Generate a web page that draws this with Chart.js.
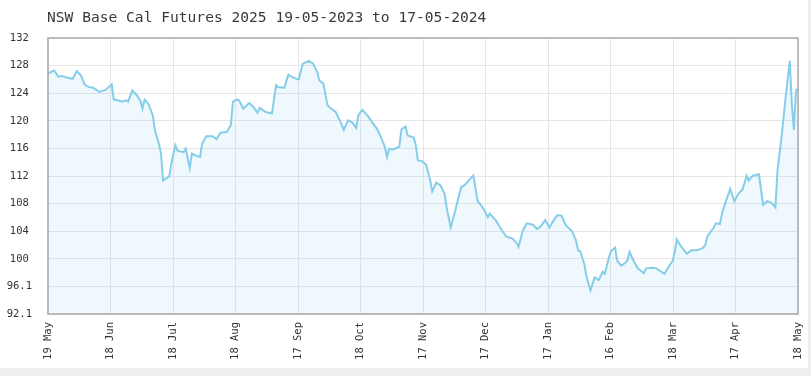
<!DOCTYPE html>
<html>
<head>
<meta charset="utf-8">
<script src="https://cdn.jsdelivr.net/npm/chart.js@4"></script>
<style>
  html, body { margin: 0; padding: 0; background: #eeeeee; }
  #wrap { width: 808px; height: 368px; background: #fff; }
</style>
</head>
<body>
<div id="wrap"><canvas id="chart" width="808" height="368"></canvas></div>
<script>
const titleText = "NSW Base Cal Futures 2025 19-05-2023 to 17-05-2024";

// day offset from 19-05-2023, price
const days = [0,3,5,7,9,12,14,16,18,20,22,25,28,31,32,34,36,38,39,41,43,45,46,47,49,51,52,54,55,56,57,59,60,62,63,66,67,69,70,72,74,75,77,80,82,84,87,89,90,92,93,95,98,100,102,103,106,109,111,112,115,117,119,122,124,127,129,131,132,134,136,137,140,142,144,146,148,150,151,153,156,158,160,162,164,165,166,168,171,172,174,175,178,179,180,182,184,186,187,189,191,193,194,196,198,201,203,205,207,208,209,212,214,215,218,220,223,226,228,229,231,233,236,238,240,242,244,246,248,250,252,255,257,258,259,261,262,264,266,268,270,271,273,274,276,277,279,281,282,283,285,287,290,291,294,296,300,302,304,305,306,308,311,313,316,319,320,321,324,325,327,328,330,332,334,336,338,340,341,343,346,348,350,352,354,355,357,359,361,362,363,364,365];
const prices = [126.9,127.3,126.4,126.5,126.3,126.1,127.2,126.6,125.2,124.9,124.8,124.2,124.5,125.3,123.1,123.0,122.8,123.0,122.8,124.4,123.8,122.9,121.8,123.1,122.4,120.8,118.7,116.7,115.3,111.4,111.6,112.0,113.8,116.5,115.7,115.5,116.0,113.2,115.3,115.0,114.8,116.7,117.8,117.8,117.4,118.3,118.4,119.4,122.8,123.1,123.0,121.8,122.6,122.0,121.2,121.9,121.3,121.1,125.2,124.9,124.8,126.7,126.3,126.0,128.3,128.7,128.3,127.1,125.9,125.4,122.3,122.0,121.3,120.1,118.7,120.1,119.8,119.0,120.8,121.6,120.6,119.7,118.9,117.7,116.2,114.8,116.0,115.9,116.3,118.8,119.2,117.9,117.6,116.5,114.3,114.2,113.7,111.4,109.8,111.1,110.7,109.5,107.5,104.6,106.8,110.4,110.8,111.5,112.1,110.4,108.5,107.3,106.1,106.6,105.6,104.6,103.3,103.0,102.4,101.8,104.1,105.2,105.0,104.4,104.8,105.7,104.6,105.6,106.4,106.3,104.9,104.1,102.7,101.3,101.2,99.3,97.6,95.5,97.4,97.0,98.2,97.9,100.3,101.2,101.7,99.8,99.1,99.5,99.9,101.1,99.8,98.7,98.0,98.7,98.8,98.7,97.9,98.9,99.8,101.0,102.9,101.9,100.8,101.3,101.3,101.7,102.2,103.4,104.6,105.2,105.1,106.6,108.5,110.2,108.4,109.5,110.1,112.1,111.4,112.1,112.3,107.9,108.4,108.2,107.5,112.8,117.7,123.5,128.7,122.5,118.7,124.5,124.6];

const xTickLabels = ["19 May","18 Jun","18 Jul","18 Aug","17 Sep","18 Oct","17 Nov","17 Dec","17 Jan","16 Feb","18 Mar","17 Apr","18 May"];
const yTickLabels = ["92.1","96.1","100","104","108","112","116","120","124","128","132"];
const yMin = 92.1, yMax = 132, xMax = 365;

const mono = "'DejaVu Sans Mono', 'Liberation Mono', monospace";

const frame = {
  id: "frame",
  afterDatasetsDraw(chart) {
    const { ctx, chartArea: a } = chart;
    ctx.save();
    ctx.strokeStyle = "#a9a9a9";
    ctx.lineWidth = 1.5;
    ctx.strokeRect(a.left, a.top, a.right - a.left, a.bottom - a.top);
    ctx.restore();
  },
  afterDraw(chart) {
    const { ctx, chartArea: a } = chart;
    ctx.save();
    ctx.font = "14.6px " + mono;
    ctx.fillStyle = "#3a3a3a";
    ctx.textBaseline = "middle";
    ctx.fillText(titleText, a.left - 1, 18);
    ctx.restore();
  }
};

new Chart(document.getElementById("chart"), {
  type: "line",
  data: {
    datasets: [{
      data: days.map((d, i) => ({ x: d, y: prices[i] })),
      borderColor: "#86cdea",
      backgroundColor: "rgba(135,200,232,0.13)",
      borderWidth: 2,
      pointRadius: 0,
      tension: 0,
      fill: "start"
    }]
  },
  options: {
    responsive: false,
    animation: false,
    layout: { padding: { top: 38, right: 10, left: 0, bottom: 0 } },
    plugins: { legend: { display: false }, tooltip: { enabled: false } },
    scales: {
      x: {
        type: "linear", min: 0, max: xMax,
        afterBuildTicks: s => { s.ticks = xTickLabels.map((_, i) => ({ value: i * xMax / 12 })); },
        afterFit: s => { s.height = 54; s.paddingLeft = 0; s.paddingRight = 0; },
        ticks: {
          minRotation: 90, maxRotation: 90, padding: 8, color: "#333",
          font: { family: mono, size: 10.5 },
          callback: (v, i) => xTickLabels[i]
        },
        grid: { color: "#e6e6e6", drawTicks: false },
        border: { display: false }
      },
      y: {
        min: yMin, max: yMax,
        afterBuildTicks: s => { s.ticks = yTickLabels.map((_, i) => ({ value: yMin + i * (yMax - yMin) / 10 })); },
        afterFit: s => { s.width = 48; },
        ticks: {
          crossAlign: "center", padding: 16, color: "#333",
          font: { family: mono, size: 10.5 },
          callback: (v, i) => yTickLabels[i]
        },
        grid: { color: "#e6e6e6", drawTicks: false },
        border: { display: false }
      }
    }
  },
  plugins: [frame]
});
</script>
</body>
</html>
